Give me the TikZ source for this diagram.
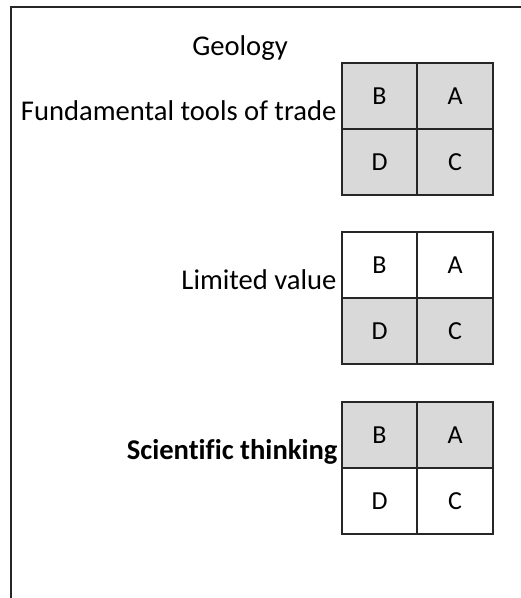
\documentclass[tikz,border=0pt]{standalone}
\usepackage{fontspec}
\setmainfont{Carlito}[Ligatures=NoCommon]
\usetikzlibrary{positioning}
\definecolor{cellgrey}{RGB}{217,217,217}
\definecolor{lineblack}{RGB}{38,38,38}

\begin{document}
\begin{tikzpicture}[
            x=1pt, y=-1pt,
            node distance=0pt,
            cell/.style={rectangle, draw=lineblack, line width=1.8pt, outer sep=0pt, inner sep=0pt,
                         minimum width=75.6pt, minimum height=66pt, font=\fontsize{26}{30}\selectfont},
            greycell/.style={cell, fill=cellgrey},
            whitecell/.style={cell, fill=white},
            rowtag/.style={anchor=base east, inner sep=0pt, font=\fontsize{28.6}{34}\selectfont}
        ]
            \useasboundingbox (0,0) rectangle (521,598);

            % Frame
            \coordinate (fbl) at (11,598);
            \coordinate (ftr) at (521,7);
            \draw[line width=2pt, lineblack] (fbl) |- (ftr);

            % Title
            \node[anchor=base, inner sep=0pt, font=\fontsize{28.6}{34}\selectfont] (title) at (240,55) {Geology};

            % Grid 1 - all grey
            \node[greycell] (g1b) at (379.5,96.3) {B};
            \node[greycell, right=of g1b] (g1a) {A};
            \node[greycell, below=of g1b] (g1d) {D};
            \node[greycell, right=of g1d] (g1c) {C};
            \node[rowtag, xshift=-5pt, yshift=8.5pt] (t1) at (g1b.south west) {Fundamental tools of trade};

            % Grid 2 - bottom row grey
            \node[whitecell] (g2b) at (379.5,265.3) {B};
            \node[whitecell, right=of g2b] (g2a) {A};
            \node[greycell, below=of g2b] (g2d) {D};
            \node[greycell, right=of g2d] (g2c) {C};
            \node[rowtag, xshift=-5pt, yshift=8.5pt] (t2) at (g2b.south west) {Limited value};

            % Grid 3 - top row grey
            \node[greycell] (g3b) at (379.5,435.3) {B};
            \node[greycell, right=of g3b] (g3a) {A};
            \node[whitecell, below=of g3b] (g3d) {D};
            \node[whitecell, right=of g3d] (g3c) {C};
            \node[rowtag, xshift=-4pt, yshift=8.5pt, font=\fontsize{28.6}{34}\selectfont\bfseries] (t3) at (g3b.south west) {Scientific thinking};
        \end{tikzpicture}
\end{document}
